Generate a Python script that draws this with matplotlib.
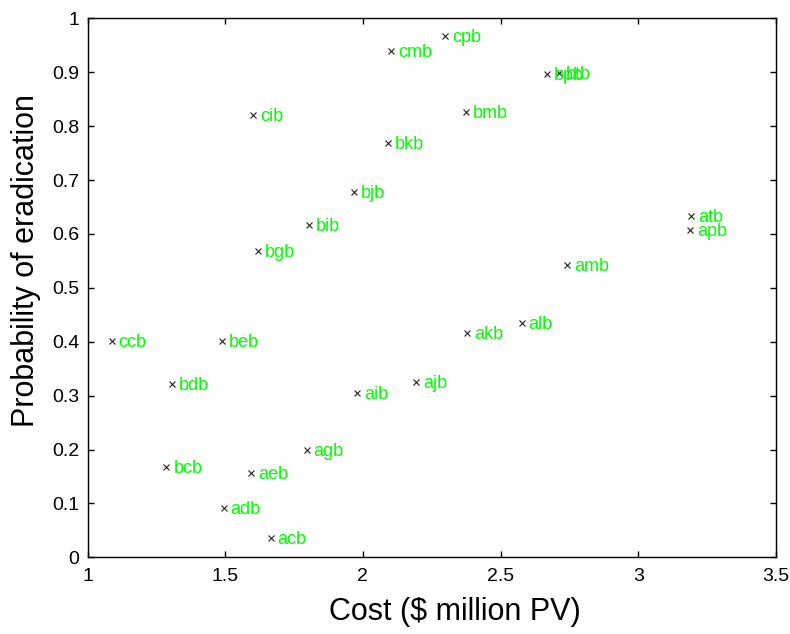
import matplotlib
matplotlib.use("Agg")
import matplotlib.pyplot as plt

plt.rcParams['font.family'] = ['Liberation Sans', 'DejaVu Sans']

labels = ["cpb", "cmb", "bpb", "btb", "bmb", "cib", "bkb", "bjb", "bib", "bgb",
          "atb", "apb", "amb", "ccb", "beb", "akb", "alb", "bdb", "aib", "ajb",
          "agb", "bcb", "aeb", "adb", "acb"]
cost = [2.298, 2.103, 2.667, 2.711, 2.374, 1.600, 2.092, 1.966, 1.803, 1.618,
        3.192, 3.188, 2.743, 1.087, 1.488, 2.378, 2.577, 1.306, 1.980, 2.193,
        1.796, 1.286, 1.593, 1.494, 1.665]
prob = [0.967, 0.939, 0.896, 0.898, 0.826, 0.820, 0.768, 0.677, 0.616, 0.568,
        0.633, 0.607, 0.542, 0.401, 0.401, 0.416, 0.434, 0.321, 0.304, 0.325,
        0.199, 0.167, 0.156, 0.0915, 0.035]

xticks = [1, 1.5, 2, 2.5, 3, 3.5]
yticks = [0, 0.1, 0.2, 0.3, 0.4, 0.5, 0.6, 0.7, 0.8, 0.9, 1]

fig = plt.figure(figsize=(7.9, 6.34), dpi=100)
ax = fig.add_axes([0.111, 0.121, 0.871, 0.850])

ax.plot(cost, prob, linestyle='none', marker='x', color='#222222',
        markersize=5, markeredgewidth=0.8)
for lab, xv, yv in zip(labels, cost, prob):
    ax.annotate(lab, (xv, yv), xytext=(5, -1), textcoords='offset points',
                color='#00ff00', fontsize=13, va='center', ha='left')

ax.set_xlim(1, 3.5)
ax.set_ylim(0, 1)
ax.set_xticks(xticks)
ax.set_xticklabels([f"{t:g}" for t in xticks])
ax.set_yticks(yticks)
ax.set_yticklabels([f"{t:g}" for t in yticks])
ax.tick_params(direction='in', top=True, right=True, length=4, width=1,
               labelsize=14)
ax.tick_params(axis='x', pad=8)
ax.tick_params(axis='y', pad=6)
for s in ax.spines.values():
    s.set_linewidth(1)
ax.set_xlabel("Cost ($ million PV)", fontsize=22)
ax.set_ylabel("Probability of eradication", fontsize=22)
ax.xaxis.set_label_coords(0.533, -0.074)
ax.yaxis.set_label_coords(-0.068, 0.551)

fig.savefig("out.png", dpi=100)
